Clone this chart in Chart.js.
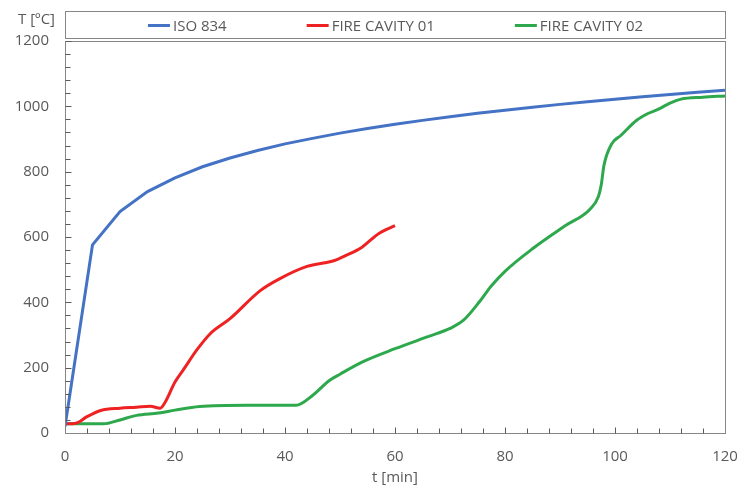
<!DOCTYPE html>
<html>
<head>
<meta charset="utf-8">
<script src="https://cdn.jsdelivr.net/npm/chart.js@4.4.1/dist/chart.umd.min.js"></script>
<style>
    html, body { margin: 0; padding: 0; background: #fff; }
    #wrap { width: 738px; height: 487px; }
</style>
</head>
<body>
<div id="wrap"><canvas id="fire-chart"></canvas></div>
<script>
/* DATA */
const isoTime = [0, 5, 10, 15, 20, 25, 30, 35, 40, 45, 50, 55, 60, 65, 70, 75, 80, 85, 90, 95, 100, 105, 110, 115, 120];
const isoTemp = [20, 576, 678, 739, 781, 815, 842, 865, 885, 902, 918, 932, 945, 957, 968, 979, 988, 997, 1006, 1014, 1022, 1029, 1036, 1043, 1049];

const cav1Time = [0, 2, 4, 6.5, 10, 13, 15.5, 17.3, 18.2, 20, 21.5, 24, 26.4, 30, 35.5, 39, 44, 49, 51, 54, 57, 60];
const cav1Temp = [28, 30, 50, 69, 76, 79, 82, 76, 94, 156, 193, 255, 304, 350, 436, 472, 510, 528, 543, 569, 610, 635];

const cav2Time = [0, 7, 10, 13, 17, 20, 24.5, 33, 42, 45, 48, 50, 54, 60, 66, 70, 72.5, 75.5, 77.5, 80, 85, 91, 95.5, 97, 97.5, 98, 99.4, 101, 104, 106, 108, 110, 112, 116, 120];
const cav2Temp = [28, 28, 40, 54, 61, 70, 81, 85, 85, 115, 160, 180, 217, 258, 295, 320, 346, 405, 450, 495, 564, 635, 686, 725, 760, 820, 885, 910, 958, 978, 992, 1010, 1022, 1028, 1032];

const seriesNames = ["ISO 834", "FIRE CAVITY 01", "FIRE CAVITY 02"];
const seriesColors = ["#4472C4", "#EE2222", "#2EA84C"];

const xLabelStep = 20, xMinorStep = 4;
const yLabelStep = 200, yMinorStep = 40;

function toPoints(xs, ys) {
    const pts = [];
    for (let i = 0; i < xs.length; i++) {
        pts.push({ x: xs[i], y: ys[i] });
    }
    return pts;
}

const textColor = "#595959";
const lineGray = "#868686";
const fontFamily = "'Open Sans', 'Liberation Sans', sans-serif";

// frame, minor ticks, legend box and y title
const framePlugin = {
    id: "frame",
    afterDraw(chart) {
        const ctx = chart.ctx;
        const a = chart.chartArea;
        const xs = chart.scales.x, ys = chart.scales.y;
        const left = Math.round(a.left) + 0.5, right = Math.round(a.right) + 0.5;
        const top = Math.round(a.top) + 0.5, bottom = Math.round(a.bottom) + 0.5;
        ctx.save();
        ctx.strokeStyle = lineGray;
        ctx.lineWidth = 1;
        ctx.strokeRect(left, top, right - left, bottom - top);

        // small inward ticks
        ctx.strokeStyle = "#5a5a5a";
        ctx.lineWidth = 1;
        ctx.beginPath();
        for (let v = xMinorStep; v < 120; v += xMinorStep) {
            const px = Math.round(xs.getPixelForValue(v)) + 0.5;
            const len = v % xLabelStep === 0 ? 6 : 5;
            ctx.moveTo(px, bottom);
            ctx.lineTo(px, bottom - len);
        }
        for (let v = yMinorStep; v <= 1200; v += yMinorStep) {
            const py = Math.round(ys.getPixelForValue(v)) + 0.5;
            const len = v % yLabelStep === 0 ? 6 : 5;
            ctx.moveTo(left, py);
            ctx.lineTo(left + len, py);
        }
        ctx.stroke();

        ctx.fillStyle = textColor;
        ctx.font = "15px " + fontFamily;
        ctx.textAlign = "right";
        ctx.textBaseline = "middle";
        ctx.fillText("T [ºC]", 55, 20);

        // legend in a box over the plot
        ctx.strokeStyle = lineGray;
        ctx.strokeRect(left, 11.5, right - left, 27);
        const sets = chart.data.datasets;
        const gap = 80, lineLen = 22, textGap = 3;
        const widths = sets.map(ds => lineLen + textGap + ctx.measureText(ds.label).width);
        const total = widths.reduce((s, w) => s + w, 0) + gap * (sets.length - 1);
        let x = (left + right) / 2 - total / 2;
        const ly = 25.5;
        ctx.textAlign = "left";
        sets.forEach((ds, i) => {
            ctx.strokeStyle = ds.borderColor;
            ctx.lineWidth = 3;
            ctx.beginPath();
            ctx.moveTo(x, ly);
            ctx.lineTo(x + lineLen, ly);
            ctx.stroke();
            ctx.fillText(ds.label, x + lineLen + textGap, ly + 1);
            x += widths[i] + gap;
        });
        ctx.restore();
    }
};

new Chart(document.getElementById("fire-chart"), {
    type: "line",
    data: {
        datasets: [
            {
                label: seriesNames[0],
                data: toPoints(isoTime, isoTemp),
                borderColor: seriesColors[0],
                backgroundColor: seriesColors[0],
                borderWidth: 3,
                tension: 0,
                pointRadius: 0
            },
            {
                label: seriesNames[1],
                data: toPoints(cav1Time, cav1Temp),
                borderColor: seriesColors[1],
                backgroundColor: seriesColors[1],
                borderWidth: 3,
                cubicInterpolationMode: "monotone",
                pointRadius: 0
            },
            {
                label: seriesNames[2],
                data: toPoints(cav2Time, cav2Temp),
                borderColor: seriesColors[2],
                backgroundColor: seriesColors[2],
                borderWidth: 3,
                cubicInterpolationMode: "monotone",
                pointRadius: 0
            }
        ]
    },
    options: {
        responsive: true,
        maintainAspectRatio: false,
        animation: false,
        layout: { padding: { top: 41, left: 0, right: 0, bottom: 0 } },
        plugins: {
            legend: { display: false },
            tooltip: { enabled: false }
        },
        scales: {
            x: {
                type: "linear",
                min: 0,
                max: 120,
                grid: { display: false, drawTicks: false },
                border: { display: false },
                ticks: {
                    stepSize: xLabelStep,
                    padding: 15,
                    color: textColor,
                    font: { family: fontFamily, size: 15 }
                },
                title: {
                    display: true,
                    text: "t [min]",
                    color: textColor,
                    padding: { top: 0, bottom: 0 },
                    font: { family: fontFamily, size: 15 }
                },
                afterFit(scale) {
                    scale.height = 54;
                    scale.paddingRight = 13;
                }
            },
            y: {
                min: 0,
                max: 1200,
                grid: { display: false, drawTicks: false },
                border: { display: false },
                ticks: {
                    stepSize: yLabelStep,
                    padding: 16,
                    color: textColor,
                    font: { family: fontFamily, size: 15 },
                    callback: (v) => String(v)
                },
                afterFit(scale) {
                    scale.width = 65;
                    scale.paddingTop = 0;
                }
            }
        }
    },
    plugins: [framePlugin]
});
</script>
</body>
</html>
